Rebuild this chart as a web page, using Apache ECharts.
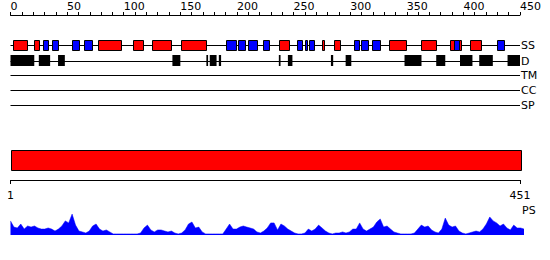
<!DOCTYPE html>
<html>
<head>
<meta charset="utf-8">
<script src="https://cdn.jsdelivr.net/npm/echarts@6/dist/echarts.min.js"></script>
<style>html,body{margin:0;padding:0;background:#fff;}#c{width:550px;height:260px;}</style>
</head>
<body>
<div id="c"></div>
<script>
// ---- data ----
var seqLength = 451;
var topTickLabels = [0, 50, 100, 150, 200, 250, 300, 350, 400, 450];
var bottomTickLabels = [1, 451];
var rowNames = ['SS', 'D', 'TM', 'CC', 'SP'];
// secondary structure: [start, end, type] H = helix (red), E = strand (blue)
var ssStart = [2, 21, 29, 37, 54, 65, 77, 108, 125, 151, 190, 201, 210, 223, 237, 253, 260, 264, 275, 286, 303, 310, 319, 334, 363, 388, 392, 396, 406, 430];
var ssEnd   = [14, 25, 33, 42, 60, 72, 97, 117, 142, 173, 199, 207, 218, 228, 246, 257, 262, 268, 277, 291, 307, 316, 326, 349, 376, 392, 396, 398, 416, 436];
var ssType  = ['H','H','E','E','E','E','H','H','H','H','E','E','E','E','H','E','E','E','H','H','E','E','E','H','H','H','E','H','H','E'];
// disorder segments
var disStart = [0, 25, 42, 143, 173, 176, 184, 237, 245, 283, 296, 348, 376, 397, 414, 439];
var disEnd   = [21, 35, 48, 150, 174.5, 182, 186, 238.5, 249, 285, 301, 363, 384, 408, 426, 450];
// protein binding score, sampled every 3 residues from residue 1
var psStep = 3;
var psValues = [0.64,0.36,0.32,0.5,0.27,0.41,0.36,0.41,0.32,0.27,0.27,0.32,0.27,0.18,0.27,0.41,0.64,0.55,0.95,0.45,
0.18,0.14,0.09,0.18,0.41,0.5,0.27,0.18,0.23,0.14,0.05,0.05,0.05,0.05,0.05,0.05,0.05,0.05,0.09,0.32,
0.45,0.23,0.14,0.23,0.23,0.18,0.14,0.18,0.09,0.05,0.09,0.23,0.5,0.59,0.32,0.36,0.14,0.05,0.05,0.05,
0.05,0.05,0.05,0.27,0.5,0.27,0.27,0.36,0.41,0.36,0.32,0.27,0.14,0.09,0.18,0.32,0.55,0.55,0.23,0.5,
0.41,0.27,0.18,0.09,0.05,0.05,0.09,0.27,0.18,0.27,0.45,0.32,0.18,0.09,0.05,0.09,0.09,0.14,0.09,0.14,
0.27,0.27,0.55,0.27,0.18,0.27,0.36,0.59,0.73,0.36,0.41,0.27,0.14,0.09,0.05,0.05,0.05,0.05,0.09,0.27,
0.45,0.36,0.41,0.23,0.14,0.09,0.27,0.77,0.45,0.36,0.41,0.18,0.09,0.05,0.09,0.14,0.18,0.14,0.27,0.5,
0.82,0.64,0.55,0.41,0.5,0.32,0.23,0.45,0.32,0.32,0.27];

// ---- build ----
var FONT = 'DejaVu Sans';
var ssData = ssStart.map(function (s, i) { return [s, ssEnd[i], ssType[i]]; });
var disData = disStart.map(function (s, i) { return [s, disEnd[i]]; });
var rowData = rowNames.map(function (n, i) { return [i, n]; });
var rowY = [30, 45.5, 60, 75, 90];
var psData = psValues.map(function (v, i) { return [1 + i * psStep, v]; });

var chart = echarts.init(document.getElementById('c'), null, {renderer: 'svg'});
chart.setOption({
  animation: false,
  backgroundColor: '#fff',
  grid: [
    {left: 10.5, width: 509.5, top: 15, height: 100},
    {left: 10.5, width: 509.5, top: 140, height: 40},
    {left: 10.5, width: 513.5, top: 213, height: 22}
  ],
  xAxis: [
    {gridIndex: 0, type: 'value', position: 'top', min: 0, max: 450, interval: 50,
     axisLine: {show: true, lineStyle: {color: '#000', width: 1}},
     axisTick: {show: true, length: 3, lineStyle: {color: '#000'}},
     minorTick: {show: true, splitNumber: 5, length: 3, lineStyle: {color: '#000'}},
     axisLabel: {show: true, align: 'left', margin: 3, fontSize: 11, fontFamily: FONT, color: '#000',
       formatter: function (v) { return topTickLabels.indexOf(v) >= 0 ? String(v) : ''; }},
     splitLine: {show: false}, minorSplitLine: {show: false}},
    {gridIndex: 1, type: 'value', position: 'bottom', min: 1, max: 451,
     axisLine: {show: true, onZero: false, lineStyle: {color: '#000', width: 1}},
     axisTick: {show: true, length: 4, customValues: bottomTickLabels, lineStyle: {color: '#000'}},
     axisLabel: {show: true, margin: 10, fontSize: 11, fontFamily: FONT, color: '#000', customValues: bottomTickLabels},
     splitLine: {show: false}},
    {gridIndex: 2, type: 'value', min: 1, max: 451, show: false}
  ],
  yAxis: [
    {gridIndex: 0, type: 'value', min: 0, max: 100, inverse: true, show: false},
    {gridIndex: 1, type: 'value', min: 0, max: 40, inverse: true, show: false},
    {gridIndex: 2, type: 'value', min: 0, max: 1, show: false}
  ],
  series: [
    {type: 'custom', xAxisIndex: 0, yAxisIndex: 0, z: 1, data: rowData,
     renderItem: function (params, api) {
       var idx = api.value(0);
       var y = rowY[idx];
       var a = api.coord([0, y]);
       var b = api.coord([450, y]);
       var yy = Math.round(a[1]) + 0.5;
       return {type: 'group', children: [
         {type: 'line', shape: {x1: a[0], y1: yy, x2: b[0], y2: yy}, style: {stroke: '#000', lineWidth: 1}},
         {type: 'text', style: {x: b[0] + 1, y: yy, text: rowNames[idx], fill: '#000', font: '11px "DejaVu Sans"', textVerticalAlign: 'middle', verticalAlign: 'middle'}}
       ]};
     }},
    {type: 'custom', xAxisIndex: 0, yAxisIndex: 0, z: 2, data: ssData,
     renderItem: function (params, api) {
       var a = api.coord([api.value(0), 30]);
       var b = api.coord([api.value(1), 30]);
       var t = ssData[params.dataIndex][2];
       return {type: 'rect', shape: {x: Math.round(a[0]) + 0.5, y: Math.round(a[1]) - 5 + 0.5, width: Math.max(1, Math.round(b[0] - a[0])), height: 10},
         style: {fill: t === 'H' ? '#ff0000' : '#0000ff', stroke: '#000', lineWidth: 1}};
     }},
    {type: 'custom', xAxisIndex: 0, yAxisIndex: 0, z: 2, data: disData,
     renderItem: function (params, api) {
       var a = api.coord([api.value(0), 45.5]);
       var b = api.coord([api.value(1), 45.5]);
       return {type: 'rect', shape: {x: a[0], y: a[1] - 5.5, width: Math.max(1.5, b[0] - a[0]), height: 11},
         style: {fill: '#000', stroke: null}};
     }},
    {type: 'custom', xAxisIndex: 1, yAxisIndex: 1, data: [[1, 451]],
     renderItem: function (params, api) {
       var a = api.coord([api.value(0), 10]);
       var b = api.coord([api.value(1), 30]);
       return {type: 'rect', shape: {x: Math.round(a[0]) + 0.5, y: Math.round(a[1]) + 0.5, width: Math.round(b[0] - a[0]), height: Math.round(b[1] - a[1])},
         style: {fill: '#ff0000', stroke: '#000', lineWidth: 1}};
     }},
    {type: 'line', xAxisIndex: 2, yAxisIndex: 2, data: psData, showSymbol: false, symbol: 'none',
     lineStyle: {color: '#0000ff', width: 0.5}, areaStyle: {color: '#0000ff', opacity: 1}, itemStyle: {color: '#0000ff'}},
    {type: 'custom', xAxisIndex: 2, yAxisIndex: 2, data: [[451, 1]],
     renderItem: function (params, api) {
       var p = api.coord([api.value(0), api.value(1)]);
       return {type: 'text', style: {x: p[0] - 2, y: p[1] - 3, text: 'PS', fill: '#000', font: '11px "DejaVu Sans"', textVerticalAlign: 'middle', verticalAlign: 'middle'}};
     }}
  ]
});
</script>
</body>
</html>
